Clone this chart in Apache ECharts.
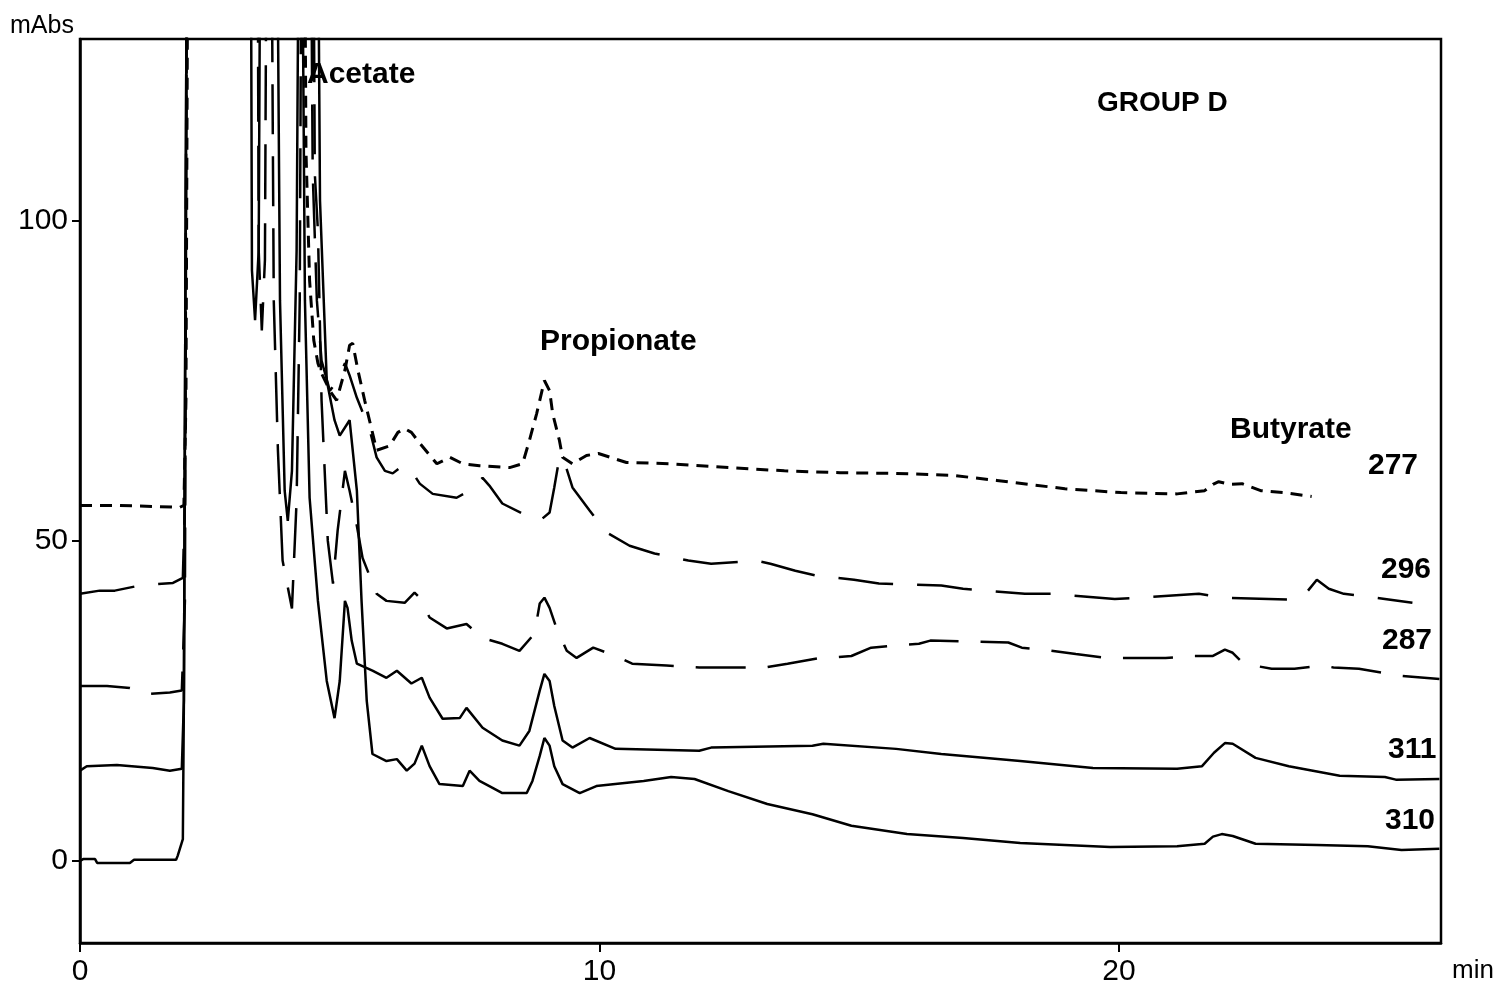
<!DOCTYPE html>
<html>
<head>
<meta charset="utf-8">
<script src="https://cdn.jsdelivr.net/npm/echarts@6/dist/echarts.min.js"></script>
<style>
html,body{margin:0;padding:0;background:#fff;}
#chart{width:1499px;height:994px;}
</style>
</head>
<body>
<div id="chart"></div>
<script>
// time (min), absorbance (mAbs); 200 = off-scale (clipped above the plot)
const xTicks = [0, 10, 20];
const yTicks = [0, 50, 100];
const traceNames = ['277', '296', '287', '311', '310'];

const trace277 = [[0,55.5],[0.77,55.5],[1.92,55.2],[2.0,55.5],[2.04,71.9],[2.1,200],[4.29,200],
[4.35,110.9],[4.42,90.6],[4.5,81.3],[4.58,77.7],[4.65,76.1],[4.81,73.4],[4.94,71.9],[5.1,76.6],
[5.19,80.5],[5.25,80.8],[5.35,76.6],[5.48,71.9],[5.62,67.2],[5.71,64.1],[5.96,64.8],[6.12,66.9],
[6.25,67.5],[6.38,66.9],[6.54,65.2],[6.87,62],[7.12,63],[7.37,62],[7.69,61.7],[8.27,61.4],
[8.52,62],[8.65,65.6],[8.79,69.8],[8.94,75],[9.04,73.4],[9.1,69.8],[9.23,65.6],[9.29,63],
[9.48,62],[9.75,63.3],[9.98,63.6],[10.52,62.2],[11.38,62],[12.48,61.4],[13.56,60.9],[14.63,60.6],
[15.71,60.5],[16.79,60.2],[17.65,59.4],[18.96,58.1],[20.04,57.5],[21.12,57.3],[21.65,57.8],
[21.81,58.8],[21.92,59.2],[22.12,58.8],[22.37,58.9],[22.73,57.8],[23.17,57.5],[23.71,56.9]];

const trace296 = [[0,41.7],[0.38,42.2],[0.67,42.2],[1.15,43],[1.79,43.4],[1.98,44.2],[2.02,56.3],
[2.08,200],[3.4,200],[3.44,95.3],[3.5,82.8],[3.56,93.8],[3.62,200],[4.4,200],[4.48,107.3],
[4.56,87.5],[4.65,78.1],[4.81,73.4],[4.96,75],[5.1,77.7],[5.19,75.8],[5.33,72.3],[5.58,67.2],
[5.71,63],[5.87,60.9],[6.02,60.5],[6.21,61.7],[6.38,60.9],[6.54,58.9],[6.79,57.3],[7.25,56.7],
[7.5,57.8],[7.75,59.8],[7.88,58.6],[8.13,55.8],[8.52,54.2],[8.85,53.1],[9.04,54.4],[9.13,58.3],
[9.23,63],[9.33,62.2],[9.48,58.3],[9.81,54.7],[10.13,51.3],[10.58,49.2],[11.06,48],[11.71,46.9],
[12.15,46.4],[12.69,46.7],[12.96,47],[13.29,46.4],[13.77,45.3],[14.19,44.5],[14.9,43.9],
[15.38,43.3],[16.58,43],[17.0,42.5],[18.19,41.7],[18.69,41.7],[19.92,40.9],[20.4,41.1],
[21.54,41.7],[22.04,41.1],[23.27,40.8],[23.56,41.4],[23.81,43.9],[24.04,42.5],[24.33,41.7],
[24.67,41.4],[25.12,40.9],[25.65,40.3]];

const trace287 = [[0,27.3],[0.52,27.3],[0.96,27],[1.35,26.1],[1.73,26.3],[1.96,26.6],[2.02,40.6],
[2.08,200],[3.65,200],[3.73,87.5],[3.81,64.1],[3.9,46.9],[4.08,39.4],[4.17,56.3],[4.23,87.5],
[4.29,200],[4.46,200],[4.52,107.3],[4.58,98.4],[4.65,71.9],[4.77,50],[4.87,43.3],[4.96,51.6],
[5.1,60.9],[5.19,57.8],[5.33,52.3],[5.44,47.3],[5.71,41.7],[5.9,40.6],[6.25,40.3],[6.44,41.9],
[6.54,41.1],[6.73,38],[7.06,36.3],[7.44,37],[7.75,34.8],[8.13,33.9],[8.46,32.8],[8.75,35.5],
[8.85,40.2],[8.94,41.1],[9.04,39.5],[9.17,36.4],[9.37,32.8],[9.56,31.7],[9.88,33.3],[10.31,32],
[10.63,30.8],[11.29,30.5],[11.92,30.2],[13.17,30.2],[13.62,30.8],[14.19,31.6],[14.85,32],
[15.23,33.3],[16.15,33.9],[16.37,34.4],[17.87,34.1],[18.13,33.3],[18.52,33],[19.17,32.3],
[19.77,31.7],[20.9,31.7],[21.44,32],[21.81,32],[22.04,33],[22.19,32.5],[22.4,30.8],[22.94,30],
[23.38,30],[23.92,30.5],[24.13,30.2],[24.62,30],[25.06,29.4],[25.44,28.9],[26.17,28.4]];

const trace311 = [[0,14.1],[0.13,14.8],[0.71,15],[1.4,14.5],[1.73,14.1],[1.96,14.4],[2.0,25],
[2.08,200],[3.27,200],[3.31,92.2],[3.37,84.4],[3.44,95.3],[3.5,200],[4.23,200],[4.33,87.5],
[4.42,56.7],[4.58,40.6],[4.75,28.1],[4.9,22.3],[5.0,28.1],[5.1,40.6],[5.15,39.5],[5.23,34.4],
[5.33,30.8],[5.63,29.7],[5.9,28.6],[6.1,29.7],[6.38,27.7],[6.58,28.6],[6.73,25.5],[6.98,22.2],
[7.31,22.3],[7.44,23.9],[7.75,20.8],[8.13,18.8],[8.46,18],[8.65,20.3],[8.85,26.6],[8.94,29.2],
[9.04,28.1],[9.13,24.2],[9.29,18.8],[9.48,17.7],[9.81,19.2],[10.31,17.5],[11.92,17.2],
[12.15,17.7],[14.1,18],[14.31,18.3],[15.71,17.5],[16.58,16.7],[18.1,15.6],[19.5,14.5],
[21.12,14.4],[21.6,14.8],[21.83,16.9],[22.04,18.4],[22.19,18.3],[22.63,16.1],[23.27,14.8],
[24.25,13.3],[25.12,13.1],[25.33,12.7],[26.17,12.8]];

const trace310 = [[0,0],[0.06,0.3],[0.29,0.3],[0.33,-0.3],[0.96,-0.3],[1.04,0.2],[1.85,0.2],
[1.88,0.8],[1.98,3.4],[2.0,25],[2.08,200],[3.75,200],[3.85,87.5],[3.94,57.8],[4.0,53.1],
[4.08,60.9],[4.17,95.3],[4.25,200],[4.54,200],[4.62,103.1],[4.75,75],[4.9,68.8],[5.0,66.4],
[5.19,68.8],[5.33,57.8],[5.42,40.6],[5.52,25],[5.63,16.7],[5.9,15.6],[6.1,15.9],[6.29,14.1],
[6.44,15.2],[6.58,18],[6.73,14.8],[6.92,12],[7.37,11.7],[7.5,14.1],[7.69,12.5],[7.88,11.7],
[8.13,10.6],[8.6,10.6],[8.71,12.5],[8.85,16.4],[8.94,19.2],[9.04,18],[9.13,14.8],[9.29,12],
[9.62,10.6],[9.94,11.7],[10.85,12.5],[11.38,13.1],[11.83,12.8],[12.48,10.9],[13.23,8.9],
[14.1,7.3],[14.85,5.5],[15.92,4.2],[17.0,3.6],[18.1,2.8],[18.96,2.5],[19.83,2.2],[21.12,2.3],
[21.65,2.7],[21.81,3.8],[21.98,4.2],[22.19,3.9],[22.63,2.7],[23.81,2.5],[24.79,2.3],
[25.44,1.7],[26.17,1.9]];

const peakLabels = ['Acetate', 'Propionate', 'Butyrate'];
const groupTitle = 'GROUP D';

const traces = [trace277, trace296, trace287, trace311, trace310];
const dashes = [[12, 8], [55, 24], [50, 22], 'solid', 'solid'];

const chart = echarts.init(document.getElementById('chart'), null, {renderer: 'canvas'});
const fontReg = '"Liberation Sans", Arial, sans-serif';
const boldFont = (s) => 'bold ' + s + 'px "Liberation Sans", Arial, sans-serif';

const textEl = (txt, left, top, font) => ({
  type: 'text', left: left, top: top, silent: true,
  style: {text: txt, font: font, fill: '#000'}
});

const option = {
  backgroundColor: '#fff',
  animation: false,
  grid: {left: 80, right: 58, top: 39, bottom: 51, show: true, borderColor: '#000', borderWidth: 2.5, backgroundColor: 'transparent'},
  xAxis: {
    type: 'value', min: 0, max: 26.2,
    axisLine: {show: true, onZero: false, lineStyle: {color: '#000', width: 2.5}},
    axisTick: {show: true, length: 9, customValues: xTicks, lineStyle: {color: '#000', width: 2}},
    axisLabel: {customValues: xTicks, color: '#000', fontFamily: fontReg, fontSize: 30, margin: 14},
    splitLine: {show: false}
  },
  yAxis: {
    type: 'value', min: -12.8, max: 128.3,
    axisLine: {show: true, onZero: false, lineStyle: {color: '#000', width: 2.5}},
    axisTick: {show: true, length: 8, customValues: yTicks, lineStyle: {color: '#000', width: 2}},
    axisLabel: {customValues: yTicks, color: '#000', fontFamily: fontReg, fontSize: 30, margin: 12},
    splitLine: {show: false}
  },
  series: traces.map((d, i) => ({
    name: traceNames[i], type: 'line', data: d, showSymbol: false, smooth: false,
    clip: true,
    lineStyle: {color: '#000', width: i === 0 ? 3 : 2.5, type: dashes[i]}
  })),
  graphic: [
    textEl('mAbs', 10, 14, '25px ' + fontReg),
    textEl('min', 1452, 958, '26px ' + fontReg),
    textEl(peakLabels[0], 307, 60, boldFont(30)),
    textEl(peakLabels[1], 540, 327, boldFont(30)),
    textEl(peakLabels[2], 1230, 415, boldFont(30)),
    textEl(groupTitle, 1097, 89, boldFont(28)),
    textEl(traceNames[0], 1368, 451, boldFont(30)),
    textEl(traceNames[1], 1381, 555, boldFont(30)),
    textEl(traceNames[2], 1382, 626, boldFont(30)),
    textEl(traceNames[3], 1388, 735, boldFont(30)),
    textEl(traceNames[4], 1385, 806, boldFont(30))
  ]
};
chart.setOption(option);
</script>
</body>
</html>
